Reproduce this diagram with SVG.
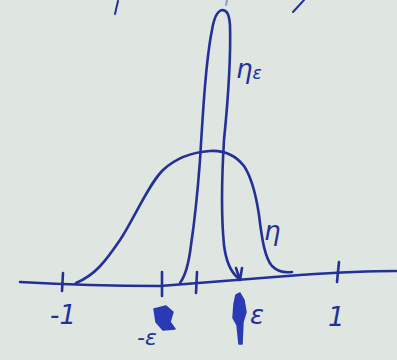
<svg xmlns="http://www.w3.org/2000/svg" width="397" height="360" viewBox="0 0 397 360">
<style>
.ink{fill:none;stroke:#22309a;stroke-width:2.6;stroke-linecap:round;stroke-linejoin:round}
.thin{stroke-width:2}
.lbl{font-family:"DejaVu Sans",sans-serif;fill:#22309a;font-style:italic}
.blob{fill:#2a3ab4;stroke:#2a3ab4;stroke-width:1.5;stroke-linejoin:round}
</style>
<rect width="397" height="360" fill="#dfe5e0"/>
<g id="top-strokes" class="ink thin">
<path d="M118 1 L115 14"/>
<path d="M304 0 L293 12"/>
<path d="M227 0 L226 5" stroke-opacity="0.4"/>
</g>
<g id="axis" class="ink">
<path d="M20 282 Q90 286 160 286 Q240 280 300 275 Q360 271 396 271"/>
<path d="M63 273 L62 291"/>
<path d="M162 272 L162 296"/>
<path d="M197 272 L196 293"/>
<path d="M236 268 L240 280 L242 268"/>
<path d="M339 262 L337 282"/>
</g>
<g id="eta" class="ink">
<path d="M76 283 C95 275 105 262 120 240 C135 217 148 185 163 170 C178 156 195 152 210 151 C225 150 236 156 244 166 C252 178 256 195 259 215 C262 240 265 258 272 266 C278 272 285 273 292 272"/>
</g>
<g id="eta-eps" class="ink">
<path d="M180 283 C186 275 189 262 191 245 C194 225 197 200 200 160 C203 110 206 60 212 30 C214 18 217 11 222 10 C227 10 229 14 230 25 C231 60 228 100 224 140 C221 190 222 225 224 245 C226 262 231 272 238 278"/>
</g>
<g id="labels">
<text class="lbl" x="236" y="78" font-size="26">η<tspan font-size="17" dy="1">ε</tspan></text>
<text class="lbl" x="264" y="240" font-size="26">η</text>
<text class="lbl" x="50" y="324" font-size="26">-1</text>
<text class="lbl" x="137" y="345" font-size="22">-ε</text>
<text class="lbl" x="250" y="324" font-size="26">ε</text>
<text class="lbl" x="328" y="326" font-size="26">1</text>
</g>
<g id="scribbles">
<path class="blob" d="M154 309 L166 306 L173 312 L170 322 L175 329 L163 330 L156 322 Z"/>
<path class="blob" d="M236 295 L240 293 L244 300 L246 312 L243 322 L242 344 L239 344 L237 325 L233 318 L234 304 Z"/>
</g>
</svg>
